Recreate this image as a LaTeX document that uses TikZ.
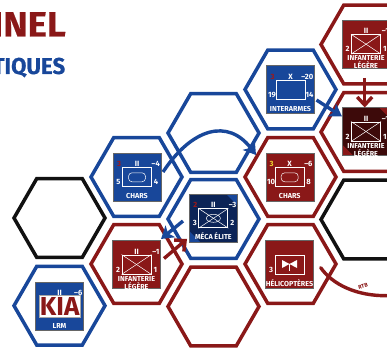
\documentclass[tikz,border=0pt]{standalone}
\usepackage{fontspec}
\usetikzlibrary{shapes.geometric,arrows.meta}
\newfontfamily\titlefont[FakeStretch=1.05,FakeBold=.4]{Fira Sans}
\newfontfamily\subtitlefont[FakeStretch=.97,FakeBold=.4]{Fira Sans}
\newfontfamily\cardfont{Fira Sans}

\definecolor{natoblue}{HTML}{18479A}
\definecolor{natored}{HTML}{8A1818}
\definecolor{natonavy}{HTML}{0C2457}
\definecolor{natomaroon}{HTML}{3D0A0A}
\definecolor{hexblack}{HTML}{111111}
\definecolor{statred}{HTML}{A01818}
\definecolor{statyellow}{HTML}{F0D830}

\tikzset{
  hexcell/.style={regular polygon,regular polygon sides=6,minimum size=91pt,
    inner sep=0pt,outer sep=0pt,line width=3.5pt,fill=none},
  card/.style={minimum size=48pt,inner sep=0pt,outer sep=0pt,draw=black!60,line width=.4pt},
  elite/.style 2 args={card,fill=#1,path picture={
    \fill[#2] (path picture bounding box.north east) ++(-11pt,0pt) -- ++(11pt,0pt) -- ++(0pt,-11pt) -- cycle;
    \fill[#2] (path picture bounding box.south west) ++(11pt,0pt) -- ++(-11pt,0pt) -- ++(0pt,11pt) -- cycle;}},
  stat/.style={inner sep=0pt,text=white,font=\cardfont\bfseries\fontsize{7.6}{7.6}\selectfont},
  cardname/.style={inner sep=0pt,text=white,align=center,anchor=south,
    font=\cardfont\bfseries\fontsize{7.2}{6.1}\selectfont},
  symbolbox/.style={draw=white!80,line width=.9pt,minimum width=29pt,minimum height=19pt,inner sep=0pt},
  symbolline/.style={draw=white!80,line width=.5pt},
  movearrow/.style={line width=3.4pt},
  redtip/.style={-{Straight Barb[length=8pt,width=15pt,line width=3.4pt]},draw=natored},
  bluetip/.style={-{Stealth[length=12pt,width=15pt,inset=3pt]},draw=natoblue}
}

% card: id, position, style, rating, size, right top, left, right, name
\newcommand{\unitcard}[9]{
  \node[#3] (#1) at (#2) {};
  \node[stat] (#1-rate) at ([shift={(-18,-13)}]#1) {#4};
  \node[stat] (#1-size) at ([shift={(0,-13)}]#1) {#5};
  \node[stat,anchor=east] (#1-top) at ([shift={(23,-13)}]#1) {#6};
  \node[stat] (#1-left) at ([shift={(-18.5,5)}]#1) {#7};
  \node[stat] (#1-right) at ([shift={(19,5)}]#1) {#8};
  \node[cardname] (#1-name) at ([shift={(0,\namey)}]#1) {#9};
  \node[symbolbox] (#1-box) at (#1) {};
}
\newcommand{\crossbox}[1]{
  \draw[symbolline] (#1-box.north west) -- (#1-box.south east);
  \draw[symbolline] (#1-box.south west) -- (#1-box.north east);
}
\newcommand{\ovalbox}[1]{
  \node[symbolline,draw,rounded corners=3.5pt,minimum width=17pt,minimum height=9pt,inner sep=0pt] (#1-oval) at (#1-box) {};
}

\begin{document}
\begin{tikzpicture}[x=1pt,y=-1pt]
\useasboundingbox (0,0) rectangle (387,350);

%% titles, cut by the page
\node[anchor=base east,inner sep=0pt,text=natored,font=\titlefont\bfseries\fontsize{35}{35}\selectfont] (titlered) at (66,36.5) {NNEL};
\node[anchor=base east,inner sep=0pt,text=natoblue,font=\subtitlefont\bfseries\fontsize{23}{23}\selectfont] (titleblue) at (65.5,74) {TIQUES};

%% hexes
\foreach \hexid/\hx/\hy/\hexcol in {
  hblack/59.5/218/hexblack, hlrm/59.5/305.7/natoblue,
  hchars/136.5/177/natoblue, hinf/136.5/264/natored,
  hempty/213.5/133/natoblue, hmeca/213.5/219/natoblue, hbottom/213.5/306.5/natored,
  harmes/290.5/89.5/natoblue, hcharsb/290.5/177/natored, hheli/290.5/264/natored,
  htop/366.5/44.5/natored, hmid/366.5/132/natored, hdark/366.5/219.5/hexblack}
{
  \node[hexcell,draw=\hexcol] (\hexid) at (\hx,\hy) {};
}

%% units
\def\namey{22}
\unitcard{chars}{137,177.3}{card,fill=natoblue}{\textcolor{statred}{3}}{II}{–4}{5}{4}{CHARS}
\ovalbox{chars}
\unitcard{meca}{213.4,218.3}{elite={natonavy}{natoblue}}{\textcolor{statred}{2}}{II}{–3}{3}{2}{MÉCA ÉLITE}
\crossbox{meca}
\draw[symbolline] (meca-box) ellipse (7pt and 4pt);
\unitcard{armes}{290.5,89.5}{card,fill=natoblue}{\textcolor{statred}{3}}{X}{–20}{19}{14}{INTERARMES}
\unitcard{charsb}{289.7,177.3}{card,fill=natored}{\textcolor{statyellow}{3}}{X}{–6}{10}{8}{CHARS}
\ovalbox{charsb}
\unitcard{heli}{289.5,264.5}{card,fill=natored}{}{}{}{3}{}{HÉLICOPTÈRES}
\unitcard{lrm}{59.5,306.3}{card,fill=natoblue}{}{II}{–6}{}{}{LRM}
\def\namey{25}
\unitcard{inf}{136.5,264.5}{card,fill=natored}{}{II}{–1}{2}{1}{INFANTERIE\\LÉGÈRE}
\crossbox{inf}
\unitcard{inftop}{366,44.2}{card,fill=natored}{}{II}{–1}{2}{1}{INFANTERIE\\LÉGÈRE}
\crossbox{inftop}
\unitcard{infmid}{366,131.5}{elite={natomaroon}{natored}}{}{II}{–1}{2}{1}{INFANTERIE\\LÉGÈRE}
\crossbox{infmid}

%% KIA stamp
\node[fill=white,draw=black!35,line width=.8pt,minimum width=40.5pt,minimum height=22.5pt,inner sep=0pt,
  text=natored,font=\cardfont\bfseries\fontsize{26}{26}\selectfont] (kia) at (59.7,306.3) {KIA};

%% helicopter symbol
\begin{scope}[shift={(heli-box)}]
  \fill[white] (-7.5,-4.5) -- (0,-.5) -- (7.5,-4.5) -- (7.5,3.5) -- (0,-.5) -- (-7.5,3.5) -- cycle;
  \draw[white,line width=.6pt] (0,-.5) -- (0,6.5);
\end{scope}

%% arrows
\coordinate (armesout) at (316.5,100);
\coordinate (armesin) at (342,116.5);
\coordinate (topout) at (364.7,78);
\coordinate (topin) at (364.7,107.5);
\coordinate (charsout) at (163,172);
\coordinate (charsin) at (256,155);
\coordinate (mecaout) at (183,221);
\coordinate (mecain) at (161,239);
\coordinate (infout) at (164,258.5);
\coordinate (infin) at (187,239);
\coordinate (heliout) at (320.7,267.7);
\coordinate (rtbout) at (387,295.7);

\draw[movearrow,bluetip] (armesout) -- (armesin);
\draw[movearrow,redtip] (topout) -- (topin);
\draw[movearrow,bluetip] (charsout) .. controls (192,128) and (228,118) .. (charsin);
\draw[movearrow,bluetip] (mecaout) -- (mecain);
\draw[movearrow,redtip] (infout) -- (infin);
\draw[movearrow,draw=natored,line cap=round] (heliout) .. controls (333,285) and (357,296) .. (rtbout);
\node[inner sep=0pt,rotate=14,text=natored,font=\cardfont\bfseries\fontsize{5.5}{5.5}\selectfont] (rtb) at (363,286) {RTB};

\end{tikzpicture}
\end{document}
